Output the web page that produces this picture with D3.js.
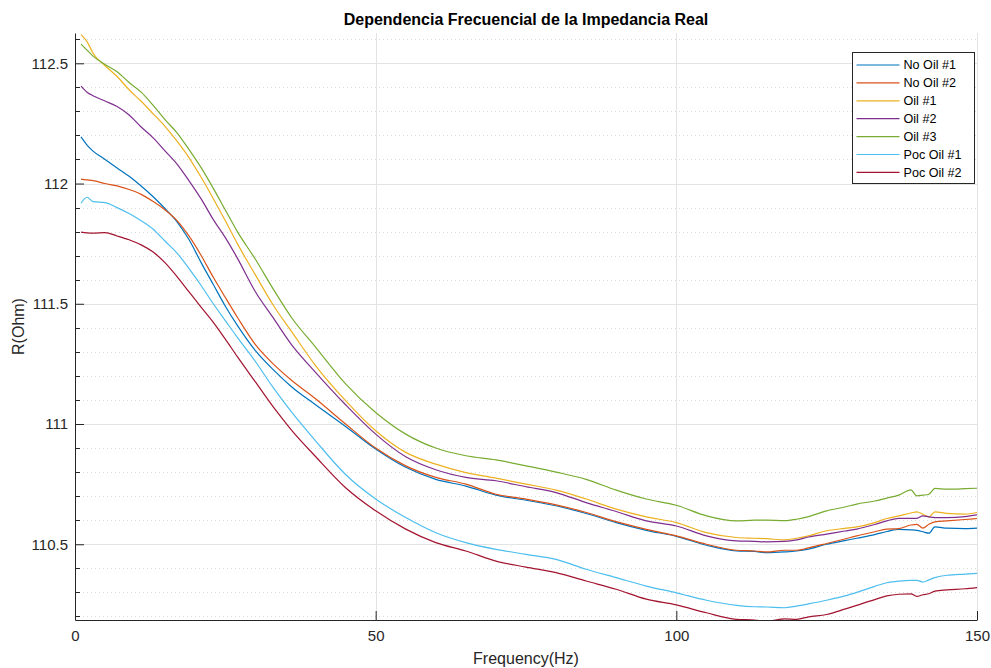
<!DOCTYPE html>
<html>
<head>
<meta charset="utf-8">
<script src="https://cdn.jsdelivr.net/npm/d3@7"></script>
<style>
  html, body { margin: 0; padding: 0; background: #fff; }
  svg { display: block; font-family: "Liberation Sans", Arial, sans-serif; }
</style>
</head>
<body>
<svg id="chart"></svg>
<script>
// Real impedance vs frequency, seven samples (MATLAB-style plot)

const freq = [1, 2, 3, 5, 7, 9, 11, 13, 15, 17, 19, 21, 23, 25, 27, 30, 33, 36, 40, 45,
  50, 55, 60, 65, 70, 75, 80, 85, 90, 95, 100, 105, 110, 113, 115, 118, 120, 122, 125, 128,
  130, 133, 135, 137, 139, 140, 141, 142, 143, 145, 148, 150];

const noOil1 = [112.194, 112.16, 112.135, 112.10, 112.065, 112.03, 111.99, 111.945, 111.895, 111.84,
  111.765, 111.67, 111.58, 111.49, 111.41, 111.305, 111.225, 111.155, 111.08, 110.99,
  110.896, 110.82, 110.77, 110.742, 110.704, 110.683, 110.66, 110.628, 110.59, 110.558,
  110.533, 110.496, 110.472, 110.47, 110.465, 110.468, 110.472, 110.48, 110.50, 110.515,
  110.525, 110.54, 110.553, 110.562, 110.56, 110.558, 110.552, 110.546, 110.572, 110.567, 110.565, 110.567];

const noOil2 = [112.018, 112.015, 112.012, 112.0, 111.99, 111.975, 111.955, 111.925, 111.89, 111.845,
  111.78, 111.70, 111.61, 111.526, 111.444, 111.33, 111.249, 111.182, 111.105, 111.0,
  110.90, 110.826, 110.778, 110.75, 110.708, 110.688, 110.664, 110.632, 110.594, 110.562,
  110.535, 110.50, 110.475, 110.472, 110.468, 110.475, 110.475, 110.485, 110.503, 110.522,
  110.535, 110.552, 110.563, 110.565, 110.58, 110.583, 110.567, 110.583, 110.593, 110.597, 110.603, 110.607];

const oil1 = [112.619, 112.59, 112.542, 112.49, 112.445, 112.39, 112.342, 112.29, 112.237, 112.175,
  112.106, 112.025, 111.937, 111.845, 111.75, 111.62, 111.493, 111.385, 111.243, 111.097,
  110.972, 110.882, 110.833, 110.798, 110.775, 110.75, 110.725, 110.688, 110.646, 110.614,
  110.59, 110.548, 110.528, 110.525, 110.523, 110.518, 110.525, 110.535, 110.556, 110.566,
  110.572, 110.59, 110.607, 110.618, 110.63, 110.635, 110.625, 110.614, 110.635, 110.628, 110.625, 110.632];

const oil2 = [112.405, 112.38, 112.365, 112.343, 112.32, 112.285, 112.235, 112.19, 112.135, 112.08,
  112.01, 111.935, 111.85, 111.775, 111.69, 111.55, 111.44, 111.33, 111.215, 111.08,
  110.958, 110.864, 110.81, 110.778, 110.764, 110.739, 110.715, 110.673, 110.636, 110.597,
  110.576, 110.535, 110.514, 110.512, 110.51, 110.512, 110.518, 110.53, 110.542, 110.555,
  110.563, 110.582, 110.597, 110.608, 110.608, 110.608, 110.618, 110.614, 110.611, 110.611, 110.615, 110.622];

const oil3 = [112.58, 112.555, 112.53, 112.495, 112.465, 112.42, 112.38, 112.325, 112.265, 112.21,
  112.14, 112.065, 111.98, 111.89, 111.80, 111.685, 111.56, 111.443, 111.32, 111.167,
  111.048, 110.958, 110.90, 110.868, 110.851, 110.826, 110.80, 110.77, 110.725, 110.688,
  110.662, 110.618, 110.597, 110.60, 110.60, 110.598, 110.604, 110.615, 110.639, 110.655,
  110.667, 110.68, 110.692, 110.704, 110.726, 110.701, 110.704, 110.708, 110.732, 110.729, 110.731, 110.733];

const pocOil1 = [111.918, 111.943, 111.925, 111.921, 111.90, 111.875, 111.845, 111.81, 111.76, 111.71,
  111.645, 111.575, 111.50, 111.43, 111.36, 111.26, 111.15, 111.05, 110.93, 110.79,
  110.688, 110.611, 110.548, 110.507, 110.479, 110.458, 110.437, 110.396, 110.361, 110.326,
  110.298, 110.267, 110.246, 110.24, 110.239, 110.236, 110.243, 110.252, 110.267, 110.285,
  110.30, 110.325, 110.34, 110.347, 110.35, 110.35, 110.343, 110.352, 110.361, 110.371, 110.376, 110.379];

const pocOil2 = [111.798, 111.795, 111.794, 111.796, 111.782, 111.766, 111.745, 111.715, 111.67, 111.612,
  111.548, 111.485, 111.423, 111.353, 111.28, 111.175, 111.07, 110.975, 110.865, 110.735,
  110.639, 110.563, 110.507, 110.472, 110.43, 110.405, 110.382, 110.347, 110.313, 110.272,
  110.248, 110.215, 110.188, 110.185, 110.18, 110.19, 110.188, 110.198, 110.208, 110.23,
  110.246, 110.27, 110.285, 110.292, 110.294, 110.283, 110.29, 110.294, 110.305, 110.31, 110.315, 110.32];

const xTicks = [0, 50, 100, 150];
const yTicks = [110.5, 111, 111.5, 112, 112.5];
const yMinorTicks = [110.2, 110.3, 110.4, 110.6, 110.7, 110.8, 110.9, 111.1, 111.2, 111.3, 111.4,
  111.6, 111.7, 111.8, 111.9, 112.1, 112.2, 112.3, 112.4, 112.6];

const series = [
  { name: "No Oil #1",  values: noOil1,  color: "#0072BD" },
  { name: "No Oil #2",  values: noOil2,  color: "#D95319" },
  { name: "Oil #1",     values: oil1,    color: "#EDB120" },
  { name: "Oil #2",     values: oil2,    color: "#7E2F8E" },
  { name: "Oil #3",     values: oil3,    color: "#77AC30" },
  { name: "Poc Oil #1", values: pocOil1, color: "#4DBEEE" },
  { name: "Poc Oil #2", values: pocOil2, color: "#A2142F" }
];

(function () {
  const W = 991, H = 668;
  const M = { top: 33, right: 14, bottom: 48, left: 75 };
  const innerW = W - M.left - M.right;
  const innerH = H - M.top - M.bottom;
  const INK = "#262626";

  const svg = d3.select("#chart").attr("width", W).attr("height", H);

  const x = d3.scaleLinear().domain([0, 150]).range([0, innerW]);
  const y = d3.scaleLinear().domain([110.185, 112.626]).range([innerH, 0]);

  const g = svg.append("g").attr("transform", `translate(${M.left},${M.top})`);

  // minor horizontal grid (dotted)
  g.append("g")
    .selectAll("line").data(yMinorTicks).join("line")
    .attr("x1", 0).attr("x2", innerW)
    .attr("y1", d => Math.round(y(d)) + 0.5).attr("y2", d => Math.round(y(d)) + 0.5)
    .attr("stroke", "#dadada").attr("stroke-width", 1)
    .attr("stroke-dasharray", "1,3");

  // major grid
  g.append("g")
    .selectAll("line").data(yTicks).join("line")
    .attr("x1", 0).attr("x2", innerW)
    .attr("y1", d => Math.round(y(d)) + 0.5).attr("y2", d => Math.round(y(d)) + 0.5)
    .attr("stroke", "#e3e3e3").attr("stroke-width", 1);

  g.append("g")
    .selectAll("line").data(xTicks.slice(1)).join("line")
    .attr("x1", d => Math.round(x(d)) + 0.5).attr("x2", d => Math.round(x(d)) + 0.5)
    .attr("y1", 0).attr("y2", innerH)
    .attr("stroke", "#e3e3e3").attr("stroke-width", 1);

  // data lines
  g.append("clipPath").attr("id", "clip")
    .append("rect").attr("width", innerW).attr("height", innerH);

  const line = d3.line()
    .curve(d3.curveMonotoneX)
    .x((d, i) => x(freq[i]))
    .y(d => y(d));

  series.forEach(s => {
    g.append("path")
      .datum(s.values)
      .attr("clip-path", "url(#clip)")
      .attr("fill", "none")
      .attr("stroke", s.color)
      .attr("stroke-width", 1.2)
      .attr("stroke-linejoin", "round")
      .attr("d", line);
  });

  // axes (ticks inside, MATLAB style)
  const xAxis = g.append("g")
    .attr("transform", `translate(0,${innerH})`)
    .call(d3.axisBottom(x).tickValues(xTicks).tickSize(-9).tickPadding(10).tickSizeOuter(0));
  const yAxis = g.append("g")
    .call(d3.axisLeft(y).tickValues(yTicks).tickSize(-9).tickPadding(7).tickSizeOuter(0)
      .tickFormat(d3.format("")));

  [xAxis, yAxis].forEach(a => {
    a.select(".domain").attr("stroke", INK);
    a.selectAll(".tick line").attr("stroke", INK);
    a.selectAll(".tick text")
      .attr("fill", INK)
      .attr("font-size", 15)
      .attr("font-family", "Liberation Sans, Arial, sans-serif");
  });
  yAxis.selectAll(".tick text").attr("x", -7);

  // minor y ticks
  g.append("g")
    .selectAll("line").data(yMinorTicks).join("line")
    .attr("x1", 0).attr("x2", 5)
    .attr("y1", d => Math.round(y(d)) + 0.5).attr("y2", d => Math.round(y(d)) + 0.5)
    .attr("stroke", INK);

  // title and labels
  svg.append("text")
    .attr("x", M.left + innerW / 2).attr("y", 25)
    .attr("text-anchor", "middle")
    .attr("font-size", 16).attr("font-weight", "bold").attr("fill", "#000")
    .text("Dependencia Frecuencial de la Impedancia Real");

  svg.append("text")
    .attr("x", M.left + innerW / 2).attr("y", 664)
    .attr("text-anchor", "middle")
    .attr("font-size", 16).attr("fill", INK)
    .text("Frequency(Hz)");

  svg.append("text")
    .attr("transform", `translate(24,${M.top + innerH / 2}) rotate(-90)`)
    .attr("text-anchor", "middle")
    .attr("font-size", 16).attr("fill", INK)
    .text("R(Ohm)");

  // legend
  const lg = svg.append("g").attr("transform", "translate(852.5,52.5)");
  lg.append("rect")
    .attr("width", 122).attr("height", 131)
    .attr("fill", "#fff").attr("stroke", INK).attr("stroke-width", 1);

  series.forEach((s, i) => {
    const ry = 12.5 + i * 17.9;
    lg.append("line")
      .attr("x1", 4).attr("x2", 47)
      .attr("y1", ry).attr("y2", ry)
      .attr("stroke", s.color).attr("stroke-width", 1.2);
    lg.append("text")
      .attr("x", 51).attr("y", ry)
      .attr("dy", "0.35em")
      .attr("font-size", 12.6).attr("fill", "#000")
      .text(s.name);
  });
})();
</script>
</body>
</html>
